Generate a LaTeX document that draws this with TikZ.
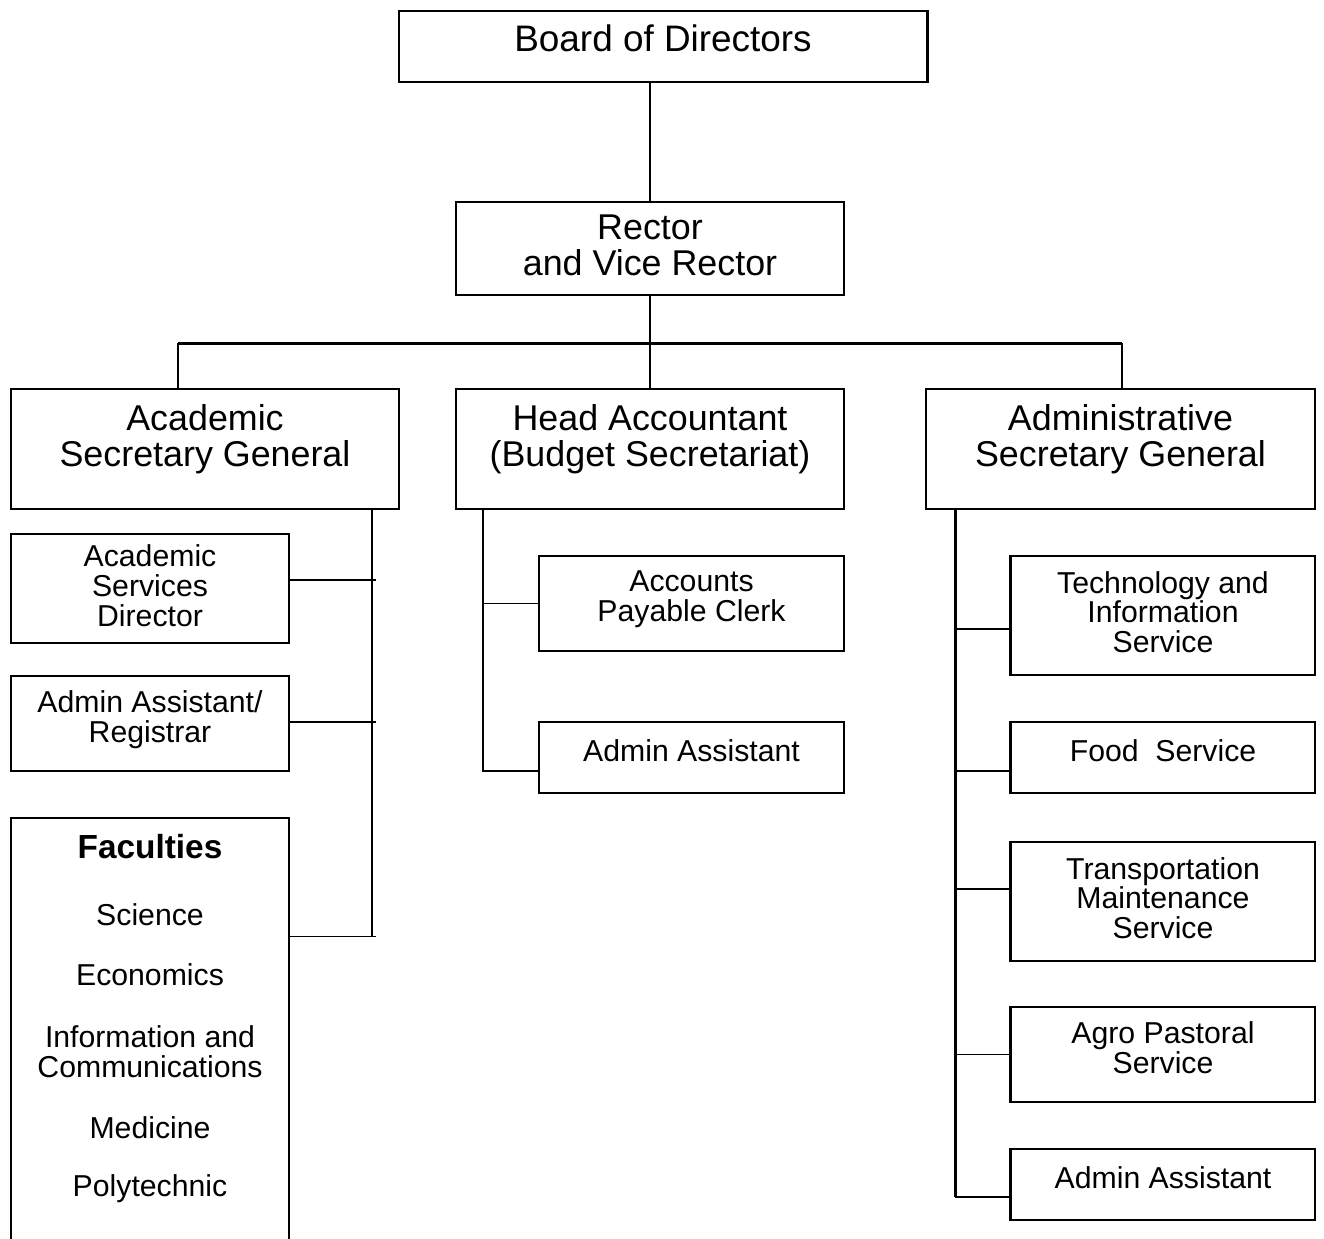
\documentclass[tikz,border=0pt]{standalone}
\usepackage{fontspec}
\setmainfont{Liberation Sans}
\usetikzlibrary{positioning, calc}
\newcommand{\bigtxt}{\fontsize{20.4}{20.4}\selectfont}
\newcommand{\smalltxt}{\fontsize{17.2}{17}\selectfont}
\tikzset{
  unitbox/.style={draw, line width=0.85pt, align=center, font=\bigtxt, text depth=9pt, inner sep=0pt},
  subbox/.style={draw, line width=0.85pt, align=center, font=\smalltxt, text depth=8pt, inner sep=0pt},
  link/.style={line width=0.85pt},
  trunk/.style={line width=1.7pt}
}

\begin{document}
\begin{tikzpicture}[x=0.02cm, y=-0.02cm]
\useasboundingbox (0,0) rectangle (1324,1238);
\clip (0,0) rectangle (1324,1238);

% Top
\node[unitbox, minimum width=10.56cm, minimum height=1.42cm, font=\fontsize{21}{21}\selectfont] (board) at (663,46.5) {Board of Directors};
\draw[trunk] (board.north east) -- (board.south east);
\node[unitbox, minimum width=7.76cm, minimum height=1.86cm, text depth=4pt] (rector) at (650,248.5) {Rector\\and Vice Rector};

% Secretariats
\node[unitbox, minimum width=7.76cm, minimum height=2.4cm, text depth=15pt] (acad) at (205,449) {Academic\\Secretary General};
\node[unitbox, minimum width=7.76cm, minimum height=2.4cm, text depth=15pt] (head) at (650,449) {Head Accountant\\(Budget Secretariat)};
\node[unitbox, minimum width=7.78cm, minimum height=2.4cm, text depth=15pt] (admin) at (1120.5,449) {Administrative\\Secretary General};

% Bus
\coordinate (busL) at (178,343);
\coordinate (busR) at (1122,343);
\draw[link] (board.south -| rector.north) -- (rector.north);
\draw[link] (rector.south) -- (rector.south |- busL);
\draw[trunk] (busL) -- (busR);
\draw[link] (busL) -- (busL |- acad.north);
\draw[link] (rector.south |- busL) -- (head.north);
\draw[link] (busR) -- (busR |- admin.north);

% Academic side
\node[subbox, minimum width=5.56cm, minimum height=2.18cm, text depth=3pt] (asd) at (150,588.5) {Academic\\Services\\Director};
\node[subbox, minimum width=5.56cm, minimum height=1.9cm] (reg) at (150,723.5) {Admin Assistant/\\Registrar};
\node[draw, line width=0.85pt, minimum width=5.56cm, minimum height=8.84cm] (fac) at (150,1039) {};
\node[font=\bfseries\fontsize{19}{19}\selectfont] (facTitle) at (150,847) {Faculties};
\foreach \y/\txt [count=\i] in {915/Science, 975/Economics, 1052/{Information and\\Communications}, 1128/Medicine, 1189/Polytechnic}
  \node[font=\smalltxt, align=center] (facItem\i) at (150,\y) {\txt};

\coordinate (acadTop) at (372,509);
\draw[link] (acadTop) -- ++(0,428);
\draw[link] ([yshift=0.17cm]asd.east) -- ++(86,0);
\draw[link] ([yshift=0.03cm]reg.east) -- ++(86,0);
\draw[link] ([yshift=-2.38cm]fac.north east) -- ++(86,0);

% Budget side
\node[subbox, minimum width=6.1cm, minimum height=1.9cm] (apc) at (691.5,603.5) {Accounts\\Payable Clerk};
\node[subbox, minimum width=6.1cm, minimum height=1.42cm] (hadm) at (691.5,757.5) {Admin Assistant};
\coordinate (headTrunk) at (483,509);
\draw[link] (headTrunk) |- ([yshift=-0.27cm]hadm.west);
\draw[link] (apc.west -| headTrunk) -- (apc.west);

% Administrative side
\node[subbox, minimum width=6.08cm, minimum height=2.38cm, text depth=4pt] (tis) at (1163,615.5) {Technology and\\Information\\Service};
\node[subbox, minimum width=6.08cm, minimum height=1.42cm] (food) at (1163,757.5) {Food~~Service};
\node[subbox, minimum width=6.08cm, minimum height=2.38cm, text depth=4pt] (trans) at (1163,901.5) {Transportation\\Maintenance\\Service};
\node[subbox, minimum width=6.08cm, minimum height=1.9cm] (agro) at (1163,1054.5) {Agro Pastoral\\Service};
\node[subbox, minimum width=6.08cm, minimum height=1.42cm] (aadm) at (1163,1184.5) {Admin Assistant};

\coordinate (adminTrunk) at (955,509);
\draw[trunk] (adminTrunk) -- ([yshift=-0.25cm]aadm.west -| adminTrunk);
\foreach \n/\dy in {tis/-0.27, food/-0.27, trans/0.25, agro/0, aadm/-0.25} {
  \draw[link] ([yshift=\dy cm]\n.west -| adminTrunk) -- ([yshift=\dy cm]\n.west);
  \draw[trunk] (\n.north west) -- (\n.south west);
}
\end{tikzpicture}
\end{document}
